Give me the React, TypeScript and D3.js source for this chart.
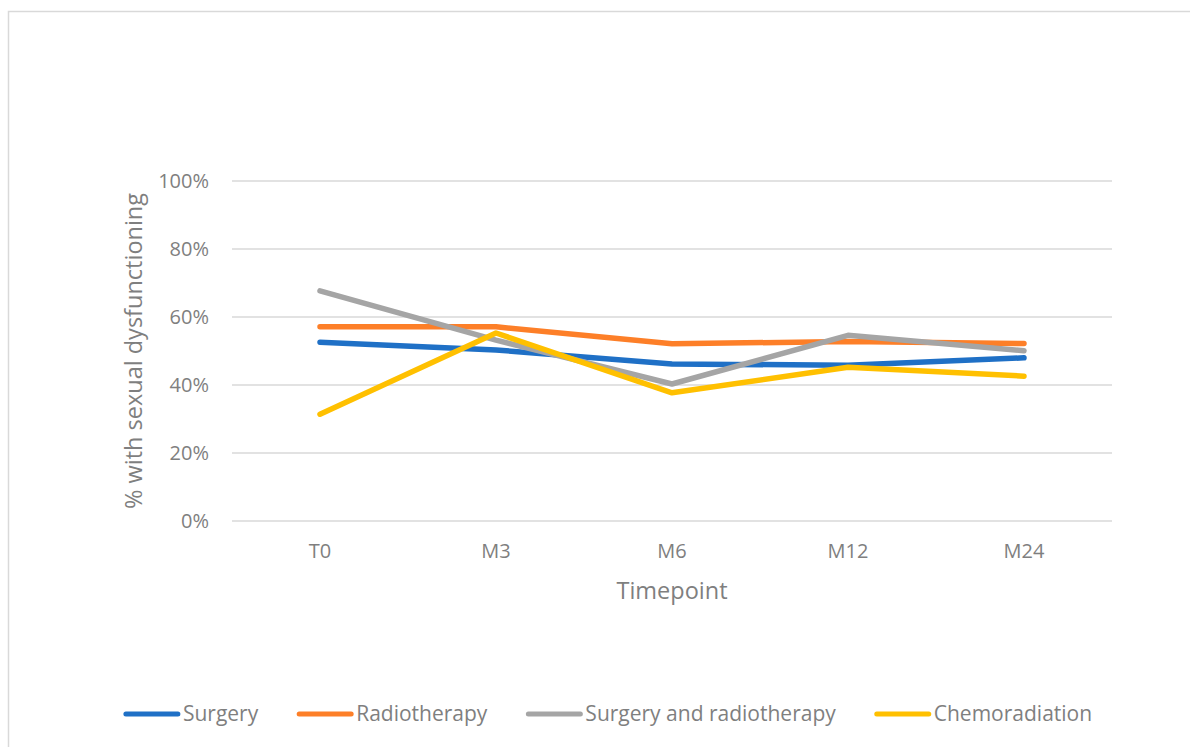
import React from 'react'
import * as d3 from 'd3'

const WIDTH = 1190
const HEIGHT = 747
const FONT = '"Open Sans", Lato, sans-serif'
const TEXT_COLOR = '#7f7f7f'
const GRID_COLOR = '#d9d9d9'

// chart data
const timepoints = ['T0', 'M3', 'M6', 'M12', 'M24']
const surgery = [52.6, 50.3, 46.2, 45.8, 48.0]
const radiotherapy = [57.1, 57.1, 52.1, 52.8, 52.2]
const surgeryAndRadiotherapy = [67.7, 53.2, 40.3, 54.6, 50.1]
const chemoradiation = [31.4, 55.3, 37.7, 45.2, 42.6]
const yTicks = [0, 20, 40, 60, 80, 100]

const seriesNames = ['Surgery', 'Radiotherapy', 'Surgery and radiotherapy', 'Chemoradiation']
const seriesColors = ['#1f70c6', '#fd7f28', '#a5a5a5', '#ffc000']
const seriesValues = [surgery, radiotherapy, surgeryAndRadiotherapy, chemoradiation]

const PLOT = { left: 232, right: 1112, top: 181, bottom: 521 }

function measure(text: string, size: number) {
  const ctx = document.createElement('canvas').getContext('2d')
  if (!ctx) return text.length * size * 0.5
  ctx.font = `${size}px ${FONT}`
  return ctx.measureText(text).width
}

export default function App() {
  const x = d3.scaleBand<string>()
    .domain(timepoints)
    .range([PLOT.left, PLOT.right])
  const y = d3.scaleLinear()
    .domain([0, 100])
    .range([PLOT.bottom, PLOT.top])

  const line = d3.line<number>()
    .x((d, i) => (x(timepoints[i]) as number) + x.bandwidth() / 2)
    .y((d) => y(d))

  // legend: swatch + label, centered under the chart
  const LEGEND_SIZE = 21
  const SWATCH = 56
  const SWATCH_GAP = 3
  const ITEM_GAP = 39
  const widths = seriesNames.map((n) => measure(n, LEGEND_SIZE))
  const total = widths.reduce((a, w) => a + SWATCH + SWATCH_GAP + w, 0) + ITEM_GAP * (seriesNames.length - 1)
  let cursor = 608 - total / 2
  const legendItems = seriesNames.map((name, i) => {
    const item = { name, color: seriesColors[i], x: cursor }
    cursor += SWATCH + SWATCH_GAP + widths[i] + ITEM_GAP
    return item
  })

  return (
    <svg
      width={WIDTH}
      height={HEIGHT}
      style={{ position: 'absolute', left: 0, top: 0, background: '#fff' }}
      fontFamily={FONT}
    >
      <rect x={8.5} y={11.5} width={1200} height={760} fill="#fff" stroke={GRID_COLOR} strokeWidth={1.5} />

      {/* gridlines + y ticks */}
      <g>
        {yTicks.map((t) => (
          <g key={t}>
            <line x1={PLOT.left} x2={PLOT.right} y1={y(t)} y2={y(t)} stroke={GRID_COLOR} strokeWidth={1.5} />
            <text x={209} y={y(t)} dy="0.35em" textAnchor="end" fontSize={20} fill={TEXT_COLOR}>
              {t + '%'}
            </text>
          </g>
        ))}
      </g>

      {/* x ticks */}
      <g>
        {timepoints.map((t) => (
          <text
            key={t}
            x={(x(t) as number) + x.bandwidth() / 2}
            y={558}
            textAnchor="middle"
            fontSize={20}
            fill={TEXT_COLOR}
          >
            {t}
          </text>
        ))}
      </g>

      <text x={672} y={599} textAnchor="middle" fontSize={23.5} fill={TEXT_COLOR}>Timepoint</text>
      <text
        transform={`translate(142,${(PLOT.top + PLOT.bottom) / 2}) rotate(-90)`}
        textAnchor="middle"
        fontSize={23.5}
        fill={TEXT_COLOR}
      >
        % with sexual dysfunctioning
      </text>

      {/* series */}
      <g fill="none" strokeWidth={5.5} strokeLinecap="round" strokeLinejoin="round">
        {seriesValues.map((vals, i) => (
          <path key={seriesNames[i]} d={line(vals) || ''} stroke={seriesColors[i]} />
        ))}
      </g>

      {/* legend */}
      <g>
        {legendItems.map((it) => (
          <g key={it.name} transform={`translate(${it.x},714)`}>
            <line x1={2} x2={SWATCH - 2} y1={0} y2={0} stroke={it.color} strokeWidth={5} strokeLinecap="round" />
            <text x={SWATCH + SWATCH_GAP} y={0} dy="0.35em" fontSize={LEGEND_SIZE} fill={TEXT_COLOR}>
              {it.name}
            </text>
          </g>
        ))}
      </g>
    </svg>
  )
}
